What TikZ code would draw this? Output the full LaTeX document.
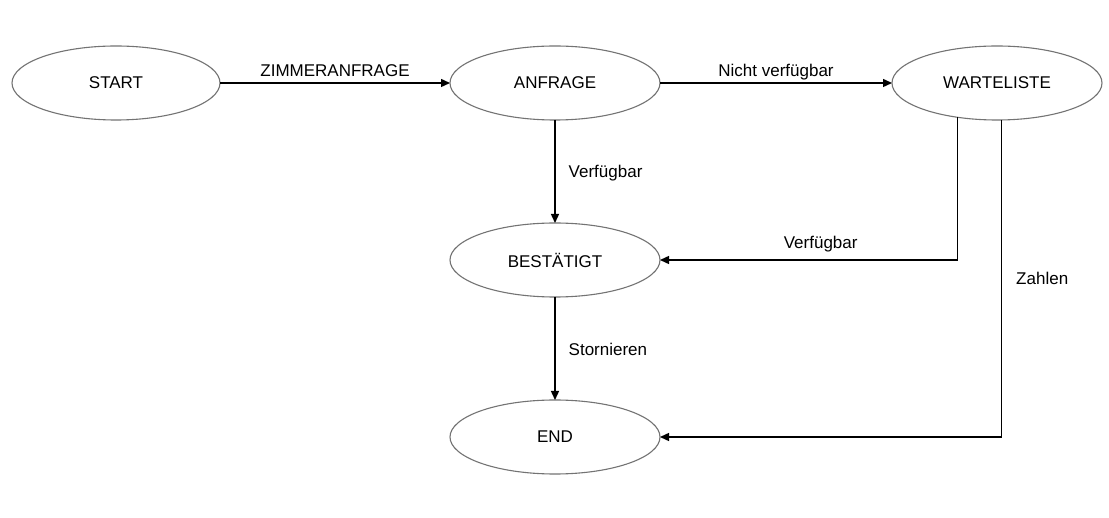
\documentclass[tikz,border=0pt]{standalone}
\usepackage{fontspec}
\setmainfont{Liberation Sans}
\usetikzlibrary{shapes.geometric,arrows.meta}
\begin{document}
\begin{tikzpicture}[x=1pt,y=-1pt,
  state/.style={ellipse,draw=black!55,line width=1.1pt,minimum width=210pt,minimum height=74pt,inner sep=0pt,outer sep=0pt,font=\fontsize{17}{20}\selectfont},
  conn/.style={line width=1.4pt,-{Triangle[length=9pt,width=8pt]}},
  lbl/.style={inner sep=0pt,font=\fontsize{17}{20}\selectfont}]
\useasboundingbox[fill=white] (0,0) rectangle (1109,518);
\node[state,minimum width=208pt] (start) at (116,83) {START};
\node[state] (anf) at (555,83) {ANFRAGE};
\node[state] (warte) at (997,83) {WARTELISTE};
\node[state] (best) at (555,260) {BESTÄTIGT};
\node[state] (end) at (555,437) {END};
\draw[conn] (start) -- (anf) node[lbl,midway,anchor=base,yshift=6pt] {ZIMMERANFRAGE};
\draw[conn] (anf) -- (warte) node[lbl,midway,anchor=base,yshift=6pt] {Nicht verfügbar};
\draw[conn] (anf) -- (best) node[lbl,midway,anchor=base west,xshift=13pt,yshift=-6.5pt] {Verfügbar};
\draw[conn] (best) -- (end) node[lbl,midway,anchor=base west,xshift=13pt,yshift=-7.5pt] {Stornieren};
\draw[conn] (warte.221) |- (best.east) node[lbl,pos=0.73,anchor=base,yshift=11pt] {Verfügbar};
\draw[conn] (warte.277.7) |- (end.east) node[lbl,pos=0.25,anchor=base west,xshift=14pt,yshift=-6pt] {Zahlen};
\end{tikzpicture}
\end{document}
